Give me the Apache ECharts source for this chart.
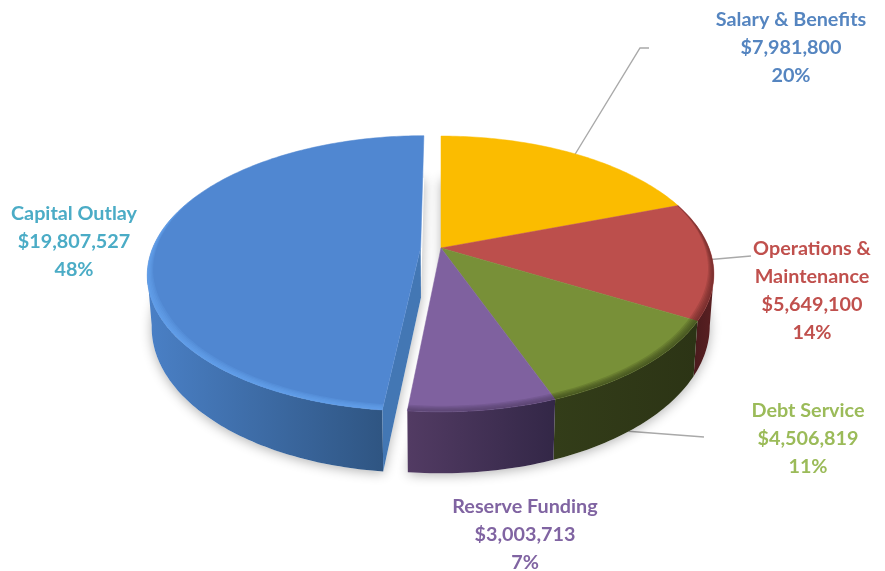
<!DOCTYPE html>
<html>
<head>
<meta charset="utf-8">
<style>html,body{margin:0;padding:0;background:#fff}#chart{width:885px;height:571px}</style>
<script src="https://cdn.jsdelivr.net/npm/echarts@6/dist/echarts.min.js"></script>
</head>
<body>
<div id="chart"></div>
<script>
// Budget categories, clockwise from twelve o'clock
const categories = ['Salary & Benefits', 'Operations &\nMaintenance', 'Debt Service', 'Reserve Funding', 'Capital Outlay'];
const amounts = [7981800, 5649100, 4506819, 3003713, 19807527];
const shares = [20, 14, 11, 7, 48];
const explode = [0, 0, 0, 0, 0.076];

const topColors = ['#fbbc00', '#bc4f4c', '#789038', '#7f619f', '#5087d1'];
const rimColors = ['#fbbc00', '#5e2422', '#36431a', '#4f3a66', '#69aaf6'];
const sideStops = [
  ['#b98a00', '#b98a00'],
  ['#4a1b1d', '#5a2022'],
  ['#333d19', '#2c3415'],
  ['#523b63', '#332747'],
  ['#4a80c6', '#2f5582']
];
const labelColors = ['#5585c0', '#c0504d', '#9bbb59', '#8064a2', '#4bacc6'];
const labelCenters = [[791, 20], [812, 249], [808, 411], [525, 507], [74, 214]];
const leaderPaths = [
  [[574, 156], [640, 48], [649, 48]],
  [[705, 260], [751, 256]],
  [[625, 431], [704, 437]],
  [],
  []
];

// Projection of the disc: a tilted plate seen in perspective
const view = { cx: 441, cy: 248, R: 268, Ry: 133, k: 0.188, depth: 50, taper: 0.015 };
const total = amounts.reduce((a, b) => a + b, 0);

function project(u, v, z) {
  const s = 1 / (1 + view.k * v);
  return [
    view.cx + view.R * u * s * (1 - view.taper * z),
    view.cy + (-view.Ry * v + view.depth * z) * s
  ];
}

const spans = [];
amounts.reduce((start, val) => {
  const end = start + val / total * 360;
  spans.push([start, end]);
  return end;
}, 0);

const rad = d => d * Math.PI / 180;

// Bearing at which the rim turns away from the viewer
const tangent = Math.acos(-view.k) * 180 / Math.PI;

function sliceTools(i) {
  const mid = rad((spans[i][0] + spans[i][1]) / 2);
  const du = Math.sin(mid) * explode[i], dv = Math.cos(mid) * explode[i];
  const at = (deg, r, z) => project(du + Math.sin(rad(deg)) * r, dv + Math.cos(rad(deg)) * r, z);
  const arc = (from, to, r, z) => {
    const n = Math.max(2, Math.ceil(Math.abs(to - from)));
    const pts = [];
    for (let j = 0; j <= n; j++) pts.push(at(from + (to - from) * j / n, r, z));
    return pts;
  };
  return { at, arc, apex: z => project(du, dv, z) };
}

function renderSlice(params) {
  const i = params.dataIndex;
  const [a0, a1] = spans[i];
  const t = sliceTools(i);
  const children = [];
  const poly = (points, style, z2) => children.push({ type: 'polygon', z2, silent: true, shape: { points }, style });

  // Leader line, under the plate
  if (leaderPaths[i].length) {
    children.push({
      type: 'polyline', z2: 0, silent: true,
      shape: { points: leaderPaths[i] },
      style: { stroke: '#a9a9a9', lineWidth: 1.4, fill: null }
    });
  }

  // Underside, only there to cast the soft shadow
  poly([t.apex(1)].concat(t.arc(a0, a1, 1, 1)), {
    fill: '#ffffff', shadowBlur: 12, shadowColor: 'rgba(0,0,0,0.3)', shadowOffsetY: 2
  }, 1);

  // Outer wall, where it faces the viewer
  const lo = Math.max(a0, tangent), hi = Math.min(a1, 360 - tangent);
  if (hi > lo) {
    const wall = t.arc(lo, hi, 1, 0).concat(t.arc(hi, lo, 1, 1));
    poly(wall, {
      fill: {
        type: 'linear', x: 0, y: 0, x2: 1, y2: 0,
        colorStops: [{ offset: 0, color: sideStops[i][0] }, { offset: 1, color: sideStops[i][1] }]
      }
    }, 2);
  }

  // Cut face left open by the pulled-out slice
  if (explode[i] > 0) {
    poly([t.apex(0), t.apex(1), t.at(a0, 1, 1), t.at(a0, 1, 0)], { fill: '#4377b4' }, 3);
  }

  // Top surface
  poly([t.apex(0)].concat(t.arc(a0, a1, 1, 0)), { fill: topColors[i], stroke: topColors[i], lineWidth: 0.5 }, 4);

  // Bevel along the front of the rim, fading out toward the back
  [0.03, 0.024, 0.018, 0.012, 0.006].forEach((w, b) => {
    const outer = t.arc(a0, a1, 1, 0);
    const n = outer.length - 1;
    const inner = [];
    for (let j = n; j >= 0; j--) {
      const deg = a0 + (a1 - a0) * j / n;
      const fade = Math.min(1, Math.max(0, (0.45 - Math.cos(rad(deg))) / 0.9));
      inner.push(t.at(deg, 1 - w * fade, 0));
    }
    poly(outer.concat(inner), { fill: rimColors[i], opacity: 0.2 }, 5);
  });

  // Label: name, amount and share
  const lines = [
    categories[i],
    '$' + amounts[i].toLocaleString('en-US'),
    shares[i] + '%'
  ].join('\n').split('\n');
  lines.forEach((text, n) => {
    children.push({
      type: 'text', z2: 9, silent: true,
      style: {
        text,
        x: labelCenters[i][0],
        y: labelCenters[i][1] + n * 28,
        fill: labelColors[i],
        font: 'bold 19.8px Lato, "Open Sans", sans-serif',
        align: 'center',
        verticalAlign: 'middle'
      }
    });
  });

  return { type: 'group', children };
}

const chart = echarts.init(document.getElementById('chart'), null, { renderer: 'canvas' });
chart.setOption({
  animation: false,
  backgroundColor: '#ffffff',
  series: [{
    type: 'custom',
    coordinateSystem: 'none',
    silent: true,
    data: amounts,
    renderItem: renderSlice
  }]
});
</script>
</body>
</html>
